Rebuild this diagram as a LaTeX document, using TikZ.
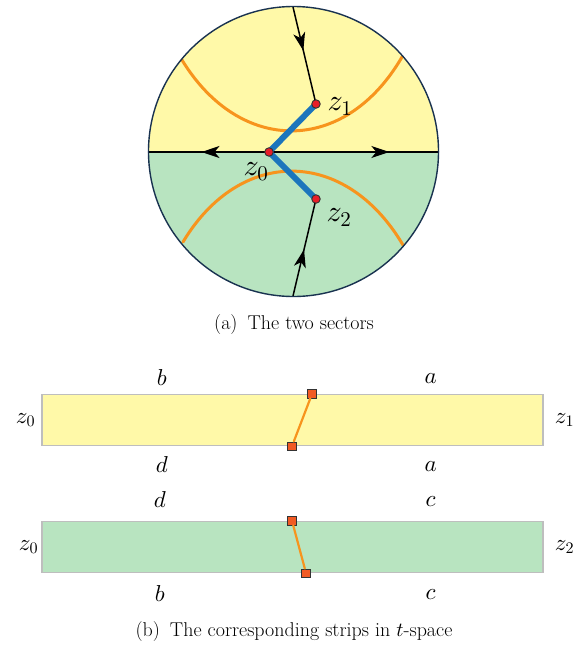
\documentclass[tikz,border=0pt]{standalone}
\usepackage{fontspec}
\usepackage{tikz}
\usetikzlibrary{arrows.meta, positioning, calc, decorations.markings}
% 数学字体可任意缩放
\DeclareFontShape{OML}{cmm}{m}{it}{<->cmmi10}{}
\DeclareFontShape{OT1}{cmr}{m}{n}{<->cmr10}{}
\definecolor{SectorYellow}{RGB}{255,249,168}
\definecolor{SectorGreen}{RGB}{184,228,192}
\definecolor{CurveOrange}{RGB}{247,148,29}
\definecolor{PathBlue}{RGB}{28,117,188}
\definecolor{DotRed}{RGB}{232,30,40}
\definecolor{SquareRed}{RGB}{241,90,36}
\definecolor{RimNavy}{RGB}{25,50,80}
\definecolor{StripGray}{RGB}{190,190,190}

\begin{document}
\begin{tikzpicture}[x=1pt, y=-1pt, line cap=round,
    dot/.style={circle, fill=DotRed, draw=black!80, line width=0.9pt, inner sep=0pt, minimum size=8.5pt},
    sq/.style={rectangle, fill=SquareRed, draw=black!80, line width=0.9pt, inner sep=0pt, minimum size=8.5pt},
    strip/.style={rectangle, draw=StripGray, line width=1.4pt, inner sep=0pt, minimum width=501pt, minimum height=51pt},
    midarrow/.style={postaction={decorate}, decoration={markings, mark=at position #1 with {\arrow{Stealth[length=18pt, width=12pt, inset=5pt]}}}},
    lab/.style={inner sep=1pt, font=\fontsize{23}{27}\selectfont},
    zlab/.style={inner sep=1pt, font=\fontsize{30}{34}\selectfont},
    captext/.style={font=\fontsize{20}{24}\selectfont}]
    \useasboundingbox (0,0) rectangle (573,646);

    % 圆盘与关键点
    \coordinate (c) at (293.5,151.5);
    \coordinate (p0) at (269,152);
    \coordinate (p1) at (316,104);
    \coordinate (p2) at (316,199);
    \coordinate (top) at (293,7);
    \coordinate (bot) at (293,296);
    \coordinate (w) at (148.5,152);
    \coordinate (e) at (438.5,152);

    % 两个扇区
    \begin{scope}
        \clip (c) circle (145);
        \fill[SectorYellow] (140,0) rectangle (450,152);
        \fill[SectorGreen] (140,152) rectangle (450,300);
    \end{scope}

    % 橙色曲线
    \draw[CurveOrange, line width=3pt] (182,60) .. controls (240,155) and (345,155) .. (402,57);
    \draw[CurveOrange, line width=3pt] (183,242) .. controls (240,147) and (345,147) .. (403,245);

    % 实轴与两条射线
    \draw[line width=1.5pt, midarrow=0.56] (p0) -- (w);
    \draw[line width=1.5pt, midarrow=0.71] (p0) -- (e);
    \draw[line width=1.5pt, midarrow=0.45] (top) -- (p1);
    \draw[line width=1.5pt, midarrow=0.48] (bot) -- (p2);

    % 蓝色折线
    \draw[PathBlue, line width=6pt, line join=round, line cap=butt] (p1) -- (p0) -- (p2);

    % 圆周
    \draw[RimNavy, line width=1.4pt] (c) circle (145);

    % 点与标注
    \node[dot] (z0) at (p0) {};
    \node[dot] (z1) at (p1) {};
    \node[dot] (z2) at (p2) {};
    \node[zlab] at ($(z1)+(24,3)$) {$z_1$};
    \node[zlab] at ($(z0)+(-13,20)$) {$z_0$};
    \node[zlab] at ($(z2)+(23,19)$) {$z_2$};

    \node[captext] (capA) at (294,325) {(a)\enspace The two sectors};

    % t 空间中的带状区域
    \node[strip, fill=SectorYellow] (stripA) at (292.5,420) {};
    \node[strip, fill=SectorGreen] (stripB) at (292.5,547) {};

    \node[sq] (a1) at ($(stripA.north west)!0.539!(stripA.north east)$) {};
    \node[sq] (a2) at ($(stripA.south west)!0.499!(stripA.south east)$) {};
    \draw[CurveOrange, line width=2.2pt] (a1) -- (a2);
    \node[sq] (b1) at ($(stripB.north west)!0.499!(stripB.north east)$) {};
    \node[sq] (b2) at ($(stripB.south west)!0.527!(stripB.south east)$) {};
    \draw[CurveOrange, line width=2.2pt] (b1) -- (b2);

    \node[lab] at ($(stripA.north west)!0.24!(stripA.north east)+(0,-16)$) {$b$};
    \node[lab] at ($(stripA.north west)!0.775!(stripA.north east)+(0,-15)$) {$a$};
    \node[lab] at ($(stripA.south west)!0.24!(stripA.south east)+(0,18)$) {$d$};
    \node[lab] at ($(stripA.south west)!0.775!(stripA.south east)+(0,20)$) {$a$};
    \node[lab, left=5pt of stripA] {$z_0$};
    \node[lab, right=10pt of stripA] {$z_1$};

    \node[lab] at ($(stripB.north west)!0.236!(stripB.north east)+(0,-21)$) {$d$};
    \node[lab] at ($(stripB.north west)!0.775!(stripB.north east)+(0,-19)$) {$c$};
    \node[lab] at ($(stripB.south west)!0.236!(stripB.south east)+(0,20)$) {$b$};
    \node[lab] at ($(stripB.south west)!0.775!(stripB.south east)+(0,21)$) {$c$};
    \node[lab, left=2pt of stripB] {$z_0$};
    \node[lab, right=10pt of stripB] {$z_2$};

    \node[captext] (capB) at (294,632) {(b)\enspace The corresponding strips in $t$-space};
\end{tikzpicture}
\end{document}
